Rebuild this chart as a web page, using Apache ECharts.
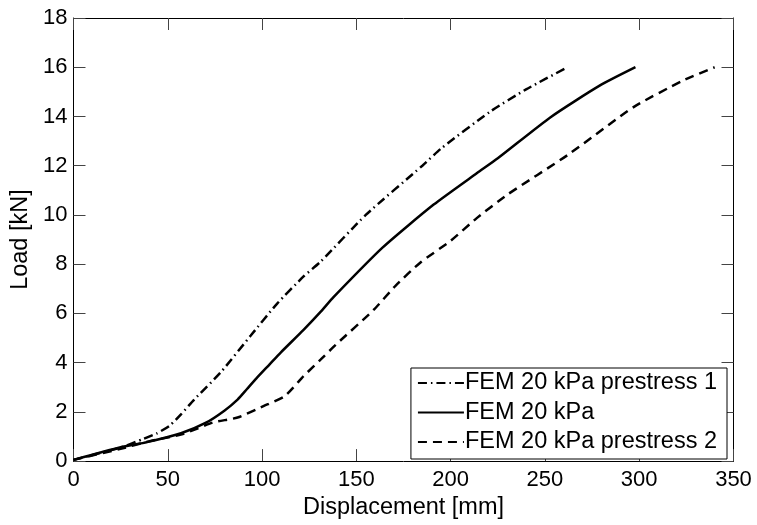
<!DOCTYPE html>
<html><head><meta charset="utf-8">
<script src="https://cdn.jsdelivr.net/npm/echarts@6/dist/echarts.min.js"></script>
<style>html,body{margin:0;padding:0;background:#fff}#c{width:757px;height:525px}</style>
</head><body><div id="c"></div>
<script>
const seriesNames = ['FEM 20 kPa prestress 1', 'FEM 20 kPa', 'FEM 20 kPa prestress 2'];

const disp1 = [0, 10, 25, 37, 44, 51, 57, 64, 78, 94, 108, 122, 131, 155, 185, 195, 221, 240, 262];
const load1 = [0.05, 0.25, 0.55, 0.9, 1.12, 1.44, 1.9, 2.5, 3.6, 5.1, 6.4, 7.5, 8.1, 10.0, 12.0, 12.7, 14.2, 15.1, 16.0];

const disp2 = [0, 25, 39, 57, 70, 80, 87, 92, 97, 104, 110, 122, 131, 138, 164, 191, 214, 225, 253, 279, 298];
const load2 = [0.05, 0.56, 0.77, 1.13, 1.55, 2.05, 2.5, 2.93, 3.36, 3.93, 4.42, 5.33, 6.06, 6.67, 8.68, 10.42, 11.7, 12.3, 13.97, 15.25, 16.0];

const disp3 = [0, 25, 40, 58, 74, 87, 101, 112, 122, 131, 139, 159, 171, 184, 200, 214, 230, 262, 297, 323, 340];
const load3 = [0.05, 0.5, 0.8, 1.1, 1.57, 1.77, 2.24, 2.64, 3.45, 4.12, 4.72, 6.13, 7.14, 8.07, 8.95, 9.88, 10.82, 12.43, 14.38, 15.45, 16.0];

const xMin = 0, xMax = 350, xStep = 50;
const yMin = 0, yMax = 18, yStep = 2;

const zip = (a, b) => a.map((v, i) => [v, b[i]]);
const FONT = 'Liberation Sans, Arial, Helvetica, sans-serif';

const chart = echarts.init(document.getElementById('c'), null, {renderer: 'canvas'});

function axisBase() {
  return {
    axisLine: {show: true, onZero: false, lineStyle: {color: '#000', width: 1}},
    axisTick: {show: true, inside: true, length: 12, lineStyle: {color: '#444', width: 1}},
    splitLine: {show: false}
  };
}

chart.setOption({
  animation: false,
  backgroundColor: '#fff',
  grid: {left: 73.5, right: 23.5, top: 18, bottom: 59.3, containLabel: false},
  xAxis: [
    Object.assign(axisBase(), {
      type: 'value', position: 'bottom', min: xMin, max: xMax, interval: xStep,
      name: 'Displacement [mm]', nameLocation: 'middle', nameGap: 32,
      nameTextStyle: {fontFamily: FONT, fontSize: 23.5, color: '#000'},
      axisLabel: {fontFamily: FONT, fontSize: 22, color: '#000', margin: 8}
    }),
    Object.assign(axisBase(), {
      type: 'value', position: 'top', min: xMin, max: xMax, interval: xStep,
      axisLabel: {show: false}
    })
  ],
  yAxis: [
    Object.assign(axisBase(), {
      type: 'value', position: 'left', min: yMin, max: yMax, interval: yStep,
      name: 'Load [kN]', nameLocation: 'middle', nameGap: 38, nameRotate: 90,
      nameTextStyle: {fontFamily: FONT, fontSize: 23.5, color: '#000'},
      axisLabel: {fontFamily: FONT, fontSize: 22, color: '#000', margin: 6, padding: [5, 0, 0, 0]}
    }),
    Object.assign(axisBase(), {
      type: 'value', position: 'right', min: yMin, max: yMax, interval: yStep,
      axisLabel: {show: false}
    })
  ],
  legend: {
    orient: 'vertical',
    right: 30, bottom: 66,
    backgroundColor: '#fff',
    borderColor: '#000', borderWidth: 1,
    padding: [3, 10, 5, 6],
    itemGap: 5.5, itemWidth: 46, itemHeight: 20,
    itemStyle: {opacity: 0},
    textStyle: {fontFamily: FONT, fontSize: 23.5, color: '#000', padding: [0, 0, 0, -4]},
    data: seriesNames,
    selectedMode: false
  },
  series: [
    {
      name: seriesNames[0], type: 'line', data: zip(disp1, load1), smooth: 0.2,
      showSymbol: false, symbol: 'none',
      lineStyle: {color: '#000', width: 2.5, type: [9, 4, 1.5, 4]}, itemStyle: {color: '#000'}
    },
    {
      name: seriesNames[1], type: 'line', data: zip(disp2, load2), smooth: 0.2,
      showSymbol: false, symbol: 'none',
      lineStyle: {color: '#000', width: 2.5, type: 'solid'}, itemStyle: {color: '#000'}
    },
    {
      name: seriesNames[2], type: 'line', data: zip(disp3, load3), smooth: 0.2,
      showSymbol: false, symbol: 'none',
      lineStyle: {color: '#000', width: 2.5, type: [9, 6]}, itemStyle: {color: '#000'}
    }
  ]
});
</script>
</body></html>
